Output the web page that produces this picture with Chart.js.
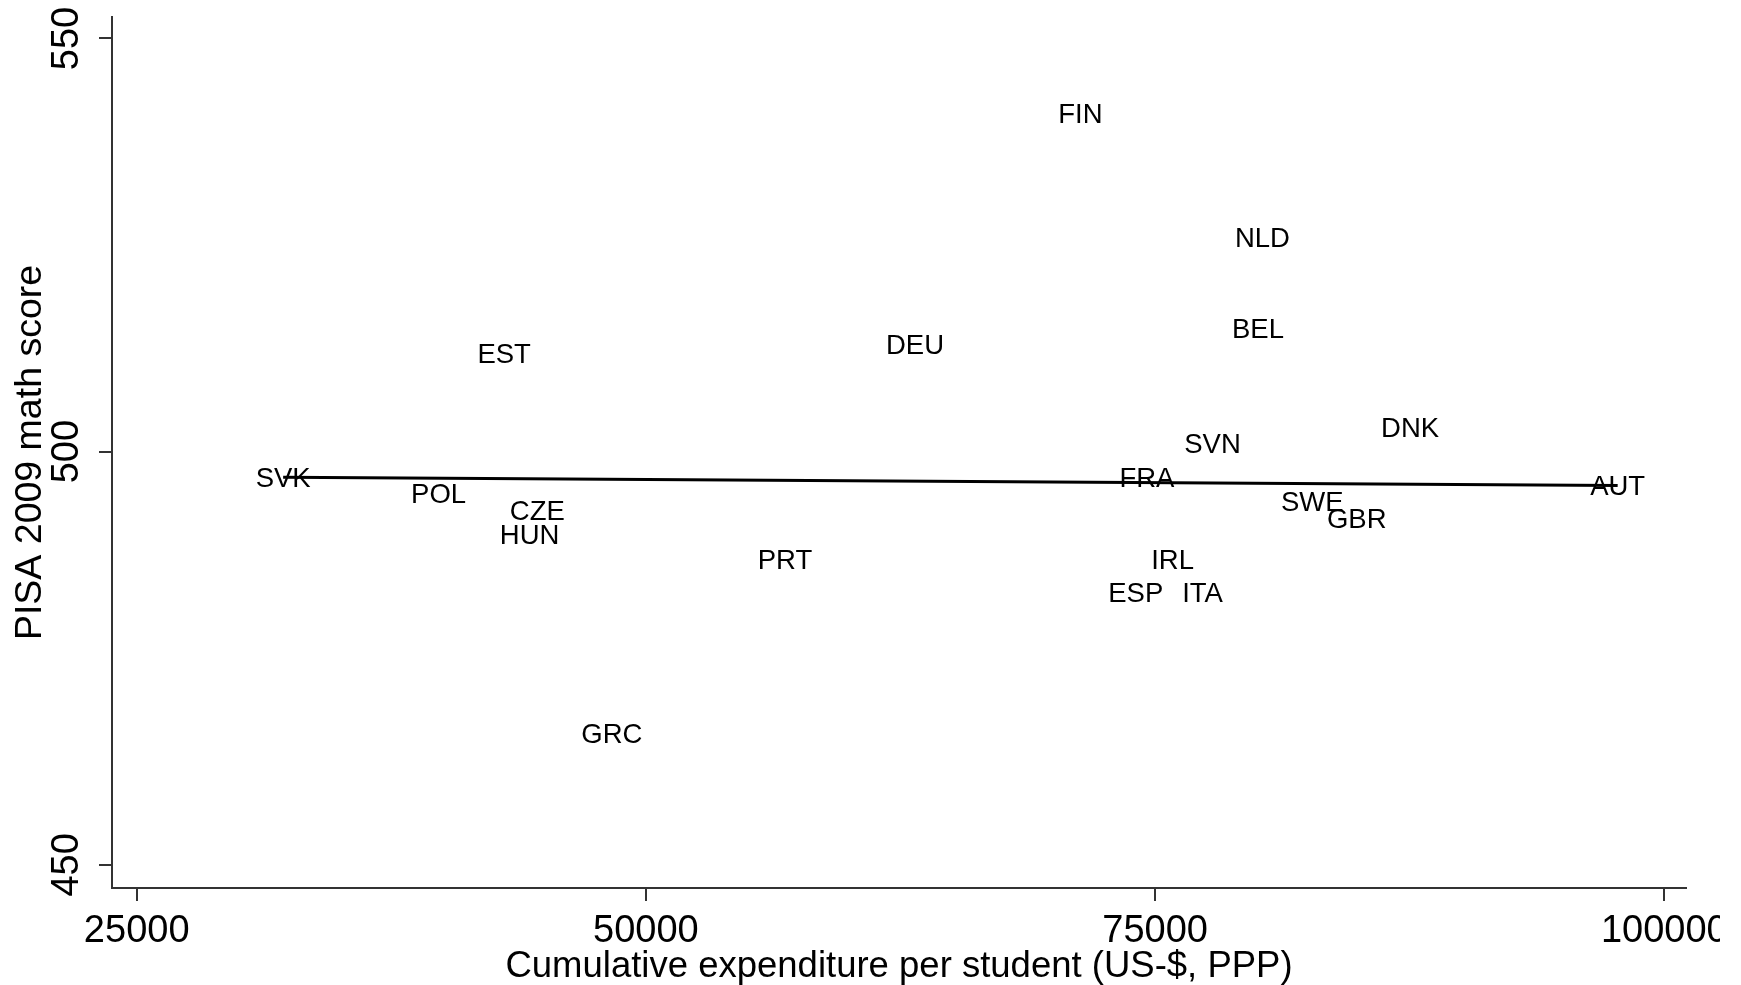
<!DOCTYPE html>
<html><head><meta charset="utf-8">
<script src="https://cdn.jsdelivr.net/npm/chart.js@4.4.1/dist/chart.umd.min.js"></script>
<style>html,body{margin:0;padding:0;background:#fff;} #wrap{width:1720px;height:985px;}</style>
</head><body>
<div id="wrap"><canvas id="c" width="1720" height="985"></canvas></div>
<script>
const countries   = ['FIN','NLD','BEL','EST','DEU','SVN','DNK','SVK','FRA','AUT','POL','SWE','GBR','CZE','HUN','PRT','IRL','ESP','ITA','GRC'];
const expenditure = [71330, 80270, 80050, 43040, 63210, 77820, 87520, 32190, 74600, 97710, 39820, 82720, 84900, 44670, 44290, 56830, 75860, 74050, 77330, 48330];
const mathScore   = [541, 526, 515, 512, 513, 501, 503, 497, 497, 496, 495, 494, 492, 493, 490, 487, 487, 483, 483, 466];
const fitX = [32190, 97710];
const fitY = [496.9, 495.9];
const xTicks = [25000, 50000, 75000, 100000];
const yTicks = [450, 500, 550];

const FONT = '"Liberation Sans", Arial, sans-serif';
const AXIS_COLOR = '#333';

const labelPlugin = {
  id: 'mlabels',
  afterDatasetsDraw(chart) {
    const meta = chart.getDatasetMeta(0);
    const ctx = chart.ctx;
    ctx.save();
    ctx.font = '27.5px ' + FONT;
    ctx.fillStyle = '#000';
    ctx.textAlign = 'center';
    ctx.textBaseline = 'middle';
    meta.data.forEach((el, i) => ctx.fillText(countries[i], el.x, el.y + 2.5));
    ctx.restore();
  }
};

const points = countries.map((c, i) => ({x: expenditure[i], y: mathScore[i]}));
const fitPoints = fitX.map((x, i) => ({x: x, y: fitY[i]}));

new Chart(document.getElementById('c'), {
  type: 'scatter',
  data: {
    datasets: [
      {label: 'countries', data: points, pointRadius: 0, pointHoverRadius: 0, showLine: false},
      {label: 'fit', type: 'line', data: fitPoints, showLine: true, borderColor: '#000', borderWidth: 3, pointRadius: 0, fill: false, tension: 0}
    ]
  },
  options: {
    responsive: false,
    animation: false,
    events: [],
    layout: {padding: {top: 17, right: 34, bottom: 0, left: 0}},
    plugins: {legend: {display: false}, tooltip: {enabled: false}},
    scales: {
      x: {
        type: 'linear', position: 'bottom',
        min: 23787, max: 101065,
        afterBuildTicks: s => { s.ticks = xTicks.map(v => ({value: v})); },
        afterFit: s => { s.height = 97; s.paddingLeft = 0; s.paddingRight = 0; },
        grid: {drawOnChartArea: false, drawTicks: true, tickLength: 13, color: AXIS_COLOR, lineWidth: 2},
        border: {display: true, color: AXIS_COLOR, width: 2},
        ticks: {autoSkip: false, maxRotation: 0, minRotation: 0, padding: 12, color: '#000',
                font: {family: FONT, size: 38, lineHeight: 1}, callback: v => String(v)},
        title: {display: true, text: 'Cumulative expenditure per student (US-$, PPP)', color: '#000',
                font: {family: FONT, size: 36.5, lineHeight: 1}, padding: {top: 0, bottom: 0}}
      },
      y: {
        type: 'linear', position: 'left',
        min: 447.2, max: 552.6,
        afterBuildTicks: s => { s.ticks = yTicks.map(v => ({value: v})); },
        afterFit: s => { s.width = 112; s.paddingTop = 0; s.paddingBottom = 0; },
        grid: {drawOnChartArea: false, drawTicks: true, tickLength: 13, color: AXIS_COLOR, lineWidth: 2},
        border: {display: true, color: AXIS_COLOR, width: 2},
        ticks: {autoSkip: false, minRotation: 90, maxRotation: 90, crossAlign: 'center', padding: 0, color: '#000',
                font: {family: FONT, size: 38, lineHeight: 1}, callback: v => String(v)},
        title: {display: true, text: 'PISA 2009 math score', color: '#000',
                font: {family: FONT, size: 37.5, lineHeight: 1}, padding: {top: 12, bottom: 0}}
      }
    }
  },
  plugins: [labelPlugin]
});
</script>
</body></html>
